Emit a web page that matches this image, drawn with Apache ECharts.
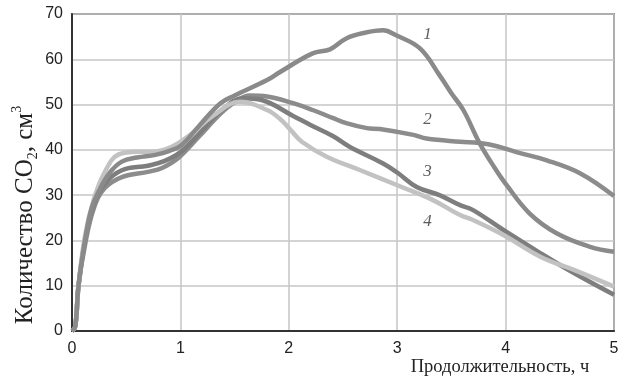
<!DOCTYPE html>
<html><head><meta charset="utf-8">
<script src="https://cdn.jsdelivr.net/npm/echarts@6/dist/echarts.min.js"></script>
<style>html,body{margin:0;padding:0;background:#fff}#c{width:624px;height:378px}</style>
</head><body><div id="c"></div>
<script>
const xTicks = [0, 1, 2, 3, 4, 5];
const yTicks = [0, 10, 20, 30, 40, 50, 60, 70];

const x1 = [0, 0.03, 0.06, 0.12, 0.18, 0.25, 0.35, 0.46, 0.6, 0.77, 0.9, 1.01, 1.18, 1.37, 1.5, 1.8, 1.92, 2.22, 2.38, 2.53, 2.69, 2.87, 2.99, 3.21, 3.39, 3.5, 3.61, 3.76, 3.9, 4.01, 4.22, 4.47, 4.78, 5.0];
const y1 = [0, 1, 10, 20, 27, 31, 35, 37.4, 38.3, 38.9, 39.8, 41, 45.5, 50.3, 52, 55.4, 57.2, 61.3, 62.2, 64.6, 65.8, 66.4, 65.3, 62.4, 56.5, 52.5, 48.8, 41.5, 36, 32.2, 26, 21.6, 18.6, 17.5];

const x2 = [0, 0.03, 0.06, 0.12, 0.2, 0.3, 0.46, 0.71, 0.83, 0.98, 1.17, 1.37, 1.5, 1.64, 1.8, 2.04, 2.22, 2.41, 2.53, 2.72, 2.84, 3.15, 3.27, 3.58, 3.76, 3.92, 4.1, 4.38, 4.69, 5.0];
const y2 = [0, 1, 10, 19, 27, 31.5, 34, 35.2, 36, 38.2, 42.9, 48, 50.5, 52, 51.8, 50.3, 48.8, 47, 45.9, 44.8, 44.6, 43.3, 42.5, 41.8, 41.5, 40.8, 39.5, 37.7, 34.8, 29.8];

const x3 = [0, 0.03, 0.06, 0.12, 0.2, 0.3, 0.46, 0.7, 0.85, 1.0, 1.17, 1.37, 1.58, 1.75, 2.04, 2.2, 2.41, 2.56, 2.87, 3.0, 3.18, 3.39, 3.58, 3.7, 3.98, 4.32, 4.63, 5.0];
const y3 = [0, 1, 10, 20, 28, 32.5, 35.5, 36.5, 37.5, 39.5, 43.5, 48.5, 51.4, 51, 47.5, 45.5, 43, 40.7, 37, 35, 31.8, 30, 27.8, 26.7, 22.3, 17.2, 12.8, 8];

const x4 = [0, 0.03, 0.06, 0.12, 0.2, 0.3, 0.43, 0.6, 0.74, 0.92, 1.1, 1.3, 1.55, 1.8, 1.92, 2.02, 2.12, 2.35, 2.66, 3.03, 3.33, 3.58, 3.7, 3.98, 4.32, 4.63, 5.0];
const y4 = [0, 1, 10, 21, 29, 35, 39, 39.6, 39.6, 40.7, 43.5, 47.5, 50.6, 48.8, 46.8, 44.3, 41.8, 38.5, 35.5, 31.9, 28.9, 25.6, 24.5, 21.2, 16.4, 13.5, 9.8];

const curveNames = ['1', '2', '3', '4'];
const labelX = [3.28, 3.28, 3.28, 3.28];
const labelY = [65.5, 46.6, 35.2, 24.2];

const xTitle = 'Продолжительность, ч';

const zip = (xs, ys) => xs.map((x, i) => [x, ys[i]]);
const colors = ['#8a8a8a', '#8c8c8c', '#7e7e7e', '#c2c2c2'];
const allX = [x1, x2, x3, x4], allY = [y1, y2, y3, y4];

const chart = echarts.init(document.getElementById('c'), null, {renderer: 'canvas'});
const series = allX.map((xs, i) => ({
  type: 'line', smooth: 0.4, showSymbol: false, data: zip(xs, allY[i]),
  lineStyle: {color: colors[i], width: 4.5}, z: 3 + (i === 0 ? 1 : 0)
}));
series.push({
  type: 'scatter', symbolSize: 0, z: 10,
  data: curveNames.map((n, i) => ({value: [labelX[i], labelY[i]], name: n})),
  label: {show: true, position: 'inside', formatter: p => p.name,
    fontFamily: 'Liberation Serif', fontStyle: 'italic', fontSize: 17, color: '#333'}
});

chart.setOption({
  animation: false,
  backgroundColor: '#fff',
  grid: {left: 72, right: 10, top: 14, bottom: 47, show: true, borderColor: '#3a3a3a', borderWidth: 1.5, backgroundColor: 'transparent'},
  xAxis: {type: 'value', min: 0, max: 5, interval: 1,
    axisLine: {show: true, lineStyle: {color: '#333', width: 2}},
    axisTick: {show: false},
    axisLabel: {fontSize: 16, color: '#222', margin: 10, fontFamily: 'Liberation Sans',
      formatter: v => xTicks.includes(v) ? String(v) : ''},
    splitLine: {show: true, lineStyle: {color: '#c6c6c6', width: 1.5}}},
  yAxis: {type: 'value', min: 0, max: 70, interval: 10,
    axisLine: {show: true, lineStyle: {color: '#333', width: 2}},
    axisTick: {show: false},
    axisLabel: {fontSize: 16, color: '#222', margin: 9, fontFamily: 'Liberation Sans',
      formatter: v => yTicks.includes(v) ? String(v) : ''},
    splitLine: {show: true, lineStyle: {color: '#c6c6c6', width: 1.5}}},
  graphic: [
    {type: 'text', x: 25, y: 215, rotation: Math.PI / 2,
      style: {text: '{n|Количество CO}{s|2}{n|, см}{p|3}', align: 'center', verticalAlign: 'middle',
        rich: {
          n: {fontFamily: 'Liberation Serif', fontSize: 25, fill: '#222', lineHeight: 30, verticalAlign: 'middle'},
          s: {fontFamily: 'Liberation Serif', fontSize: 14, fill: '#222', lineHeight: 30, verticalAlign: 'bottom'},
          p: {fontFamily: 'Liberation Serif', fontSize: 14, fill: '#222', lineHeight: 30, verticalAlign: 'top'}
        }}},
    {type: 'text', x: 500, y: 367,
      style: {text: xTitle, align: 'center', verticalAlign: 'middle',
        fontFamily: 'Liberation Serif', fontSize: 18.5, fill: '#222'}}
  ],
  series: series
});
</script></body></html>
